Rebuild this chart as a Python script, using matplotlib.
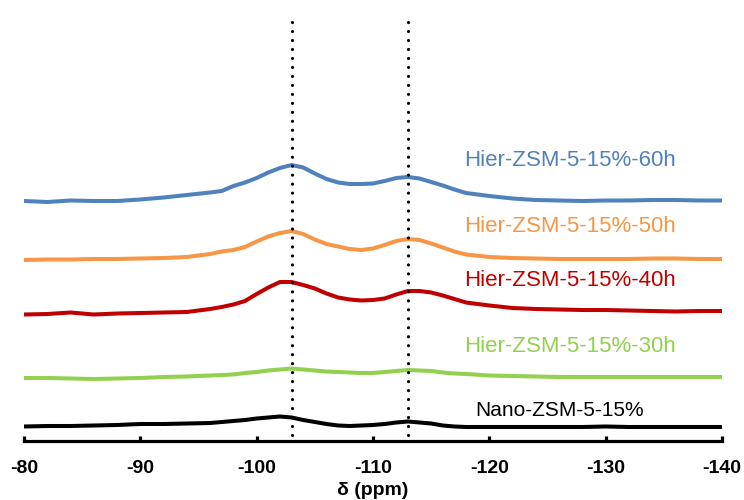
import matplotlib
matplotlib.use("Agg")
import matplotlib.pyplot as plt
import numpy as np

# chemical shift grid (ppm)
ppm = [-80, -82, -84, -86, -88, -90, -92, -94, -96, -97, -98, -99, -100, -101, -102,
       -103, -104, -105, -106, -107, -108, -109, -110, -111, -112, -113, -114, -115,
       -116, -117, -118, -120, -122, -124, -126, -128, -130, -132, -134, -136, -138, -140]

# intensities (a.u.) for each sample, relative to its own baseline
h60 = [0, -1, 0.5, 0, 0, 1.5, 3.5, 6, 8.5, 10, 15, 18.5, 23, 28.5, 33,
       36, 33.5, 27.5, 22, 18.5, 17, 17, 17.5, 20, 23, 24, 22.5, 19,
       15.5, 11.5, 8, 5, 2.5, 1, 0.5, 0, 0.5, 0.5, 1, 1, 0.5, 0.5]
h50 = [-1, -0.5, -0.5, 0, 0, 0.5, 1, 2, 5, 7.5, 9, 12, 17.5, 22.5, 26,
       28, 25, 19.5, 15, 12.5, 10, 9, 10.5, 14, 18, 20, 19, 15.5,
       11.5, 7.5, 4.5, 2, 1, 0.5, 0, 0, 0, 0, 0.5, 0.5, 0, 0]
h40 = [-1.5, -1, 0.5, -1.5, -0.5, 0, 0.5, 1, 4, 6, 8.5, 12, 19, 25.5, 31,
       31, 28, 24.5, 19.5, 15.5, 13.5, 12.5, 13, 14.5, 18.5, 22, 22, 20.5,
       17.5, 14, 10.5, 7.5, 5, 4, 3.5, 3, 3, 2.5, 2, 1.5, 2, 2]
h30 = [0, 0, -0.5, -1, -0.5, 0, 1, 1.5, 2.5, 3, 3.5, 5, 6, 7.5, 8.5,
       9.5, 8.5, 7.5, 6.5, 6, 5.5, 5, 5, 6, 7, 8, 7.5, 7,
       5.5, 4.5, 4, 2.5, 2, 1.5, 1, 1, 1, 1, 1, 1, 1, 1]
nano = [-0.5, 0, 0, 0.5, 1, 2, 2, 2.5, 3, 4, 5, 6, 7.5, 8.5, 9.5,
        8.5, 6, 4, 2, 0.5, 0, 0.5, 1, 2, 3.5, 4.5, 3.5, 2.5,
        0.5, -0.5, -1, -1, -1, -1, -1, -1, -0.5, -1, -1, -1, -1, -1]

labels = ["Hier-ZSM-5-15%-60h", "Hier-ZSM-5-15%-50h", "Hier-ZSM-5-15%-40h",
          "Hier-ZSM-5-15%-30h", "Nano-ZSM-5-15%"]
series = [h60, h50, h40, h30, nano]
colors = ["#4F81BD", "#F79646", "#C00000", "#92D050", "#000000"]
offsets = [299, 241, 187, 122, 74]
label_pos = [(-117.8, 340, 16), (-117.8, 274, 16), (-117.8, 220, 16),
             (-117.8, 153, 16), (-118.8, 90, 15)]

xticks = [-80, -90, -100, -110, -120, -130, -140]
ref_lines = [-103, -113]

fig = plt.figure(figsize=(7.44, 5.0), dpi=100)
ax = fig.add_axes([24 / 744, 59 / 500, 698 / 744, 441 / 500])

x = np.array(ppm)
for s, c, off in zip(series, colors, offsets):
    ax.plot(x, np.array(s) + off, color=c, lw=2.9, solid_capstyle="round",
            solid_joinstyle="round")

for lab, c, (lx, ly, fs) in zip(labels, colors, label_pos):
    ax.text(lx, ly, lab, color=c, fontsize=fs, family="Liberation Sans",
            ha="left", va="center")

for r in ref_lines:
    ax.plot([r, r], [65, 480], color="black", lw=2.3,
            linestyle=(0, (0.01, 2.8)), dash_capstyle="round")

ax.set_xlim(-80, -140)
ax.set_ylim(59, 500)
ax.set_xticks(xticks)
ax.set_xticklabels([str(t) for t in xticks], fontsize=14, fontweight="bold",
                   family="Liberation Sans")
ax.set_yticks([])
for sp in ["left", "right", "top"]:
    ax.spines[sp].set_visible(False)
ax.spines["bottom"].set_linewidth(2.3)
ax.tick_params(axis="x", direction="in", length=3.5, width=2.3, pad=14)
ax.set_xlabel("δ (ppm)", fontsize=14, fontweight="bold", family="Liberation Sans",
              labelpad=3)

fig.savefig("out.png", dpi=100)
